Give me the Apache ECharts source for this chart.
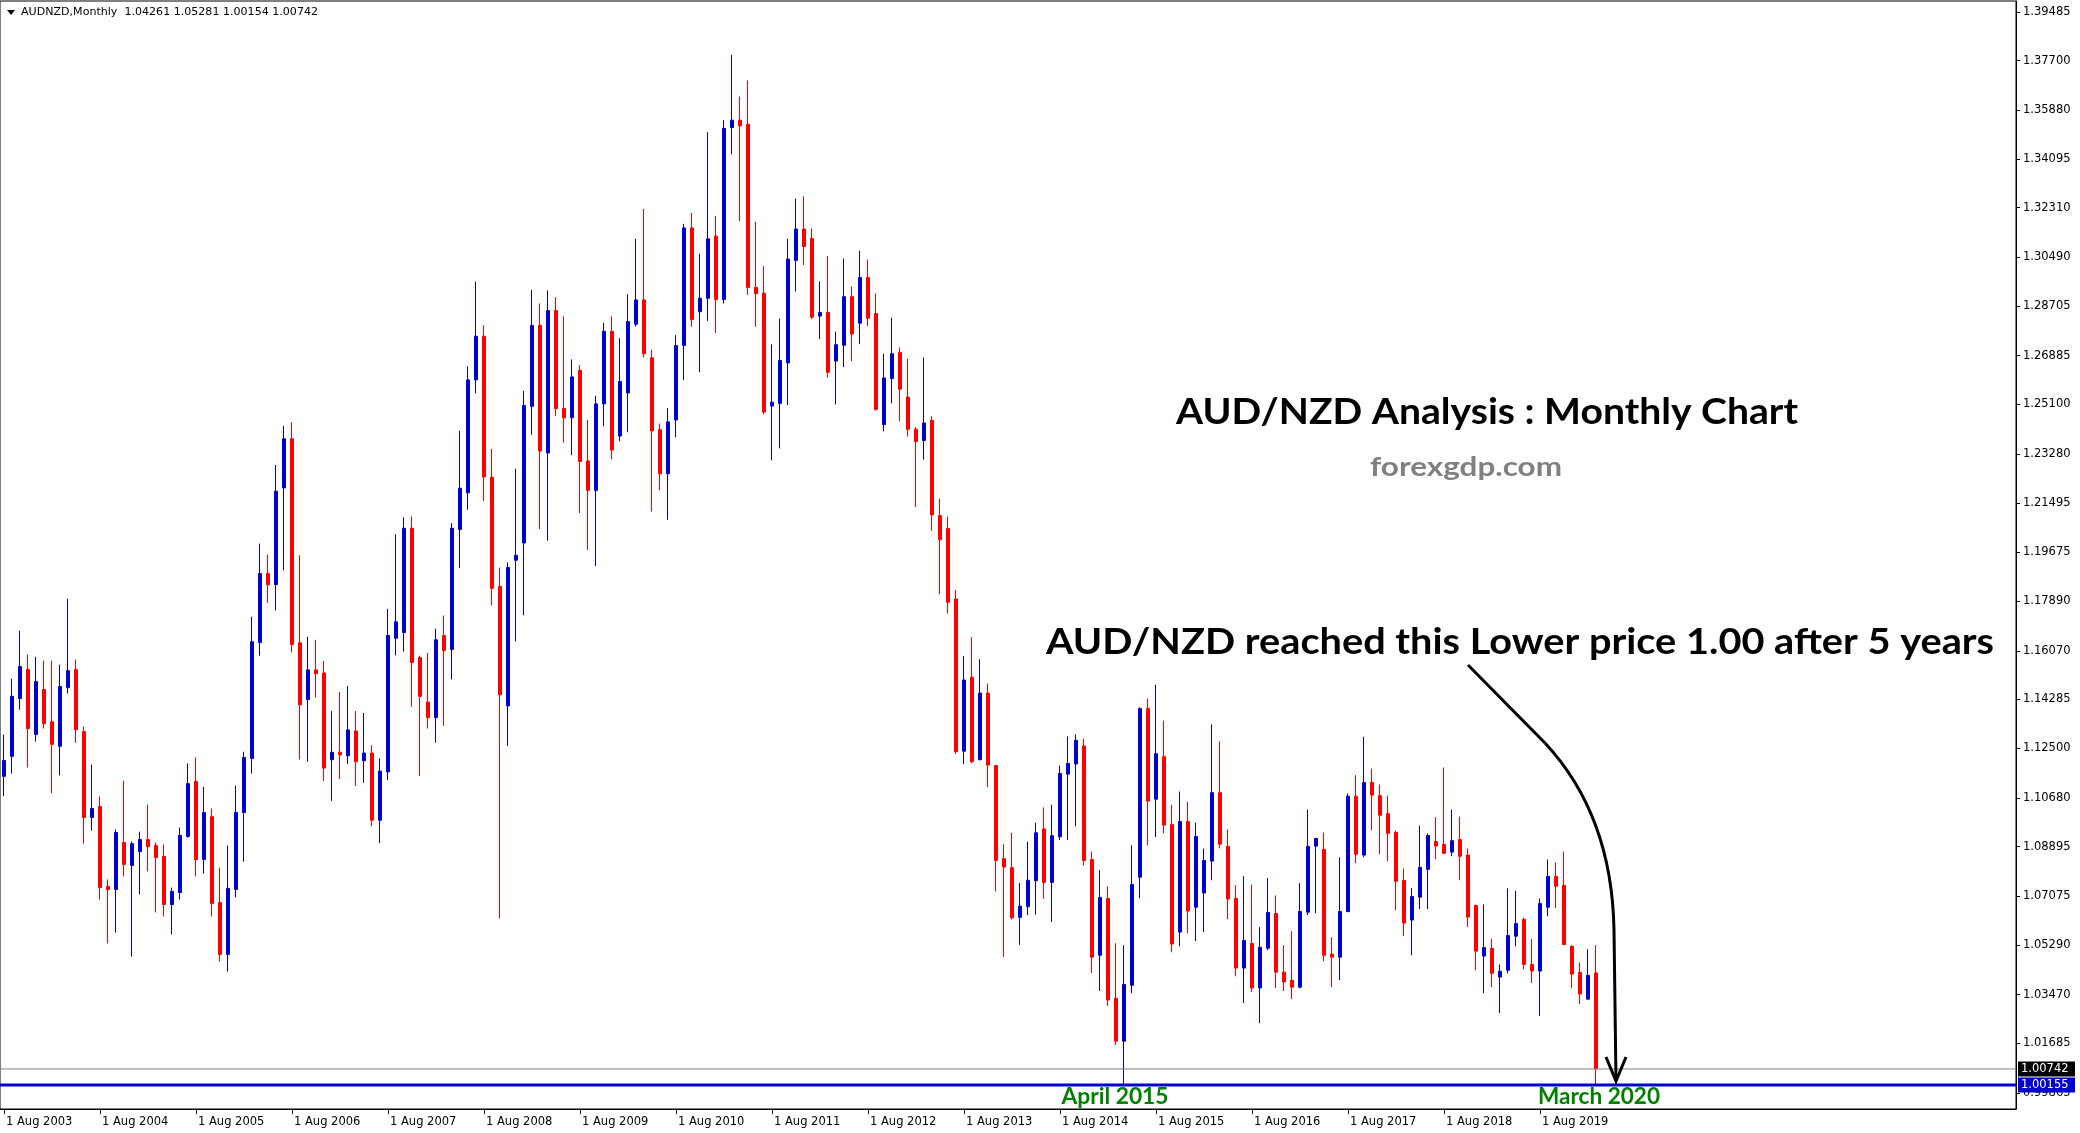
<!DOCTYPE html>
<html><head><meta charset="utf-8">
<script src="https://cdn.jsdelivr.net/npm/echarts/dist/echarts.min.js"></script>
<style>html,body{margin:0;padding:0;background:#fff}#c{width:2080px;height:1133px}</style>
</head><body><div id="c"></div>
<script>
// ---------------- data ----------------
const symbolName = 'AUDNZD,Monthly';
const startYear = 2003;
const startMonthIndex = 7; // August
const slotCount = 252;     // monthly slots shown on the x axis (bars + empty space on the right)
const monthNames = ['Jan','Feb','Mar','Apr','May','Jun','Jul','Aug','Sep','Oct','Nov','Dec'];

// monthly candles [open, high, low, close], Aug 2003 .. Mar 2020
const ohlc = [
[1.1147,1.1300,1.1074,1.1205],[1.1220,1.1505,1.1157,1.1440],[1.1432,1.1681,1.1391,1.1549],[1.1538,1.1593,1.1179,1.1322],
[1.1300,1.1585,1.1274,1.1494],[1.1465,1.1571,1.1322,1.1340],[1.1347,1.1571,1.1085,1.1264],[1.1257,1.1556,1.1150,1.1476],
[1.1472,1.1798,1.1450,1.1534],[1.1538,1.1575,1.1270,1.1318],[1.1311,1.1329,1.0900,1.0996],[1.0996,1.1190,1.0948,1.1029],
[1.1036,1.1073,1.0695,1.0739],[1.0743,1.0769,1.0534,1.0732],[1.0732,1.0952,1.0574,1.0941],[1.0904,1.1131,1.0780,1.0824],
[1.0820,1.0908,1.0486,1.0900],[1.0871,1.0944,1.0714,1.0915],[1.0915,1.1043,1.0798,1.0889],[1.0893,1.0904,1.0648,1.0849],
[1.0853,1.0897,1.0633,1.0677],[1.0677,1.0739,1.0567,1.0725],[1.0721,1.0959,1.0695,1.0930],[1.0926,1.1194,1.0922,1.1120],
[1.1128,1.1216,1.0780,1.0842],[1.0842,1.1109,1.0790,1.1014],[1.0999,1.1029,1.0633,1.0681],[1.0684,1.0812,1.0468,1.0494],
[1.0494,1.0893,1.0431,1.0736],[1.0732,1.1113,1.0703,1.1014],[1.1014,1.1237,1.0834,1.1216],[1.1212,1.1732,1.1157,1.1640],
[1.1637,1.2000,1.1589,1.1890],[1.1890,1.1960,1.1783,1.1849],[1.1850,1.2288,1.1755,1.2192],[1.2204,1.2432,1.1902,1.2384],
[1.2384,1.2445,1.1601,1.1630],[1.1636,1.1957,1.1208,1.1409],[1.1428,1.1659,1.1200,1.1537],[1.1537,1.1647,1.1436,1.1523],
[1.1526,1.1570,1.1130,1.1177],[1.1208,1.1386,1.1057,1.1235],[1.1235,1.1456,1.1137,1.1225],[1.1222,1.1478,1.1192,1.1317],
[1.1313,1.1386,1.1111,1.1200],[1.1204,1.1379,1.1123,1.1232],[1.1232,1.1261,1.0964,1.0986],[1.0986,1.1213,1.0902,1.1166],
[1.1163,1.1761,1.1133,1.1663],[1.1653,1.2034,1.1590,1.1713],[1.1674,1.2096,1.1604,1.2056],[1.2056,1.2100,1.1402,1.1564],
[1.1582,1.1589,1.1148,1.1440],[1.1419,1.1599,1.1322,1.1362],[1.1362,1.1688,1.1270,1.1647],[1.1663,1.1736,1.1332,1.1608],
[1.1612,1.2075,1.1502,1.2056],[1.2052,1.2413,1.1910,1.2203],[1.2186,1.2650,1.2124,1.2600],[1.2600,1.2960,1.2550,1.2760],
[1.2760,1.2800,1.2156,1.2244],[1.2243,1.2347,1.1773,1.1836],[1.1843,1.1912,1.0626,1.1446],[1.1405,1.1931,1.1258,1.1912],
[1.1939,1.2274,1.1641,1.1957],[1.2002,1.2560,1.1737,1.2506],[1.2503,1.2930,1.2399,1.2800],[1.2800,1.2880,1.2053,1.2339],
[1.2332,1.2928,1.2011,1.2854],[1.2854,1.2903,1.2468,1.2495],[1.2495,1.2833,1.2370,1.2461],[1.2461,1.2675,1.2324,1.2611],
[1.2635,1.2654,1.2112,1.2301],[1.2303,1.2453,1.1977,1.2195],[1.2195,1.2542,1.1918,1.2512],[1.2512,1.2810,1.2430,1.2778],
[1.2778,1.2833,1.2309,1.2343],[1.2394,1.2753,1.2375,1.2594],[1.2552,1.2914,1.2408,1.2814],[1.2804,1.3117,1.2795,1.2893],
[1.2893,1.3227,1.2683,1.2696],[1.2681,1.2711,1.2117,1.2413],[1.2417,1.2440,1.2195,1.2256],[1.2256,1.2497,1.2087,1.2446],
[1.2453,1.2764,1.2389,1.2726],[1.2726,1.3172,1.2599,1.3157],[1.3157,1.3212,1.2795,1.2821],[1.2850,1.3062,1.2628,1.2899],
[1.2899,1.3508,1.2816,1.3117],[1.3127,1.3201,1.2772,1.2895],[1.2895,1.3552,1.2880,1.3522],[1.3525,1.3791,1.3427,1.3552],
[1.3552,1.3639,1.3182,1.3531],[1.3537,1.3698,1.2912,1.2939],[1.2939,1.3180,1.2795,1.2916],[1.2918,1.3017,1.2474,1.2482],
[1.2504,1.2730,1.2305,1.2518],[1.2514,1.2825,1.2349,1.2671],[1.2662,1.3117,1.2508,1.3043],[1.3038,1.3265,1.2924,1.3153],
[1.3153,1.3273,1.3021,1.3089],[1.3118,1.3155,1.2823,1.2830],[1.2834,1.2961,1.2750,1.2847],[1.2847,1.3054,1.2609,1.2628],
[1.2669,1.2777,1.2510,1.2729],[1.2727,1.3045,1.2647,1.2905],[1.2905,1.2942,1.2669,1.2768],[1.2808,1.3074,1.2731,1.2975],
[1.2975,1.3041,1.2797,1.2826],[1.2843,1.2917,1.2487,1.2492],[1.2436,1.2696,1.2411,1.2607],[1.2605,1.2828,1.2514,1.2696],
[1.2700,1.2719,1.2448,1.2566],[1.2537,1.2677,1.2392,1.2419],[1.2419,1.2427,1.2134,1.2374],[1.2378,1.2682,1.2308,1.2442],
[1.2452,1.2467,1.2047,1.2105],[1.2103,1.2165,1.1814,1.2014],[1.2055,1.2099,1.1743,1.1785],[1.1797,1.1830,1.1229,1.1237],
[1.1239,1.1588,1.1192,1.1500],[1.1510,1.1657,1.1195,1.1200],[1.1208,1.1576,1.1205,1.1452],[1.1452,1.1487,1.1107,1.1188],
[1.1186,1.1188,1.0725,1.0838],[1.0845,1.0898,1.0485,1.0814],[1.0812,1.0940,1.0622,1.0628],[1.0630,1.0756,1.0529,1.0671],
[1.0669,1.0907,1.0638,1.0766],[1.0764,1.0977,1.0640,1.0940],[1.0954,1.1033,1.0698,1.0758],[1.0758,1.1043,1.0613,1.0929],
[1.0925,1.1186,1.0913,1.1157],[1.1155,1.1293,1.0913,1.1194],[1.1192,1.1301,1.0964,1.1279],[1.1258,1.1285,1.0820,1.0838],
[1.0842,1.0871,1.0426,1.0484],[1.0491,1.0803,1.0360,1.0703],[1.0699,1.0743,1.0305,1.0327],[1.0333,1.0535,1.0162,1.0176],
[1.0176,1.0528,1.00155,1.0384],[1.0381,1.0894,1.0352,1.0750],[1.0777,1.1400,1.0700,1.1395],[1.1395,1.1432,1.0894,1.1056],
[1.1063,1.1483,1.0924,1.1230],[1.1219,1.1351,1.0938,1.0968],[1.0970,1.1043,1.0502,1.0532],[1.0576,1.1091,1.0524,1.0981],
[1.0981,1.1054,1.0572,1.0653],[1.0667,1.0977,1.0543,1.0926],[1.0719,1.0882,1.0576,1.0838],[1.0836,1.1337,1.0766,1.1087],
[1.1087,1.1275,1.0883,1.0898],[1.0890,1.0952,1.0623,1.0697],[1.0699,1.0748,1.0414,1.0444],[1.0444,1.0781,1.0316,1.0545],
[1.0534,1.0750,1.0356,1.0371],[1.0371,1.0594,1.0242,1.0520],[1.0517,1.0774,1.0510,1.0648],[1.0644,1.0710,1.0371,1.0429],
[1.0429,1.0528,1.0360,1.0393],[1.0399,1.0579,1.0330,1.0374],[1.0374,1.0755,1.0370,1.0651],[1.0649,1.1025,1.0638,1.0890],
[1.0891,1.0921,1.0645,1.0919],[1.0879,1.0941,1.0469,1.0491],[1.0495,1.0557,1.0374,1.0484],[1.0484,1.0850,1.0400,1.0651],
[1.0651,1.1084,1.0649,1.1074],[1.1074,1.1151,1.0828,1.0861],[1.0858,1.1292,1.0850,1.1124],[1.1124,1.1175,1.0949,1.1078],
[1.1076,1.1117,1.0861,1.1004],[1.1010,1.1076,1.0836,1.0938],[1.0941,1.0948,1.0656,1.0762],[1.0765,1.0809,1.0561,1.0609],
[1.0620,1.0737,1.0491,1.0706],[1.0704,1.0966,1.0660,1.0813],[1.0806,1.0937,1.0660,1.0930],[1.0908,1.0997,1.0843,1.0891],
[1.0897,1.1179,1.0861,1.0865],[1.0869,1.1025,1.0854,1.0911],[1.0915,1.0999,1.0766,1.0854],[1.0858,1.0882,1.0594,1.0631],
[1.0673,1.0677,1.0436,1.0506],[1.0488,1.0677,1.0352,1.0519],[1.0516,1.0552,1.0374,1.0425],[1.0411,1.0457,1.0279,1.0432],
[1.0436,1.0736,1.0425,1.0563],[1.0561,1.0728,1.0524,1.0607],[1.0622,1.0629,1.0440,1.0457],[1.0457,1.0550,1.0389,1.0433],
[1.0433,1.0699,1.0268,1.0681],[1.0667,1.0842,1.0634,1.0780],[1.0780,1.0831,1.0664,1.0744],[1.0747,1.0871,1.0528,1.0530],
[1.0523,1.0528,1.0370,1.0422],[1.0428,1.0465,1.0312,1.0349],[1.0330,1.0513,1.0330,1.0417],[1.04261,1.05281,1.00154,1.00742]
];

// price axis tick labels (as printed on the right scale)
const yTickValues = [1.39485,1.37700,1.35880,1.34095,1.32310,1.30490,1.28705,1.26885,1.25100,1.23280,1.21495,1.19675,
  1.17890,1.16070,1.14285,1.12500,1.10680,1.08895,1.07075,1.05290,1.03470,1.01685,0.99865];
const yMin = 0.99274, yMax = 1.39888;

// horizontal levels
const supportLevel = 1.00155;   // blue line
const lastPrice = 1.00742;      // grey bid line

// texts
const headerText = symbolName + '  1.04261 1.05281 1.00154 1.00742';
const titleText = 'AUD/NZD Analysis : Monthly Chart';
const siteText = 'forexgdp.com';
const noteText = 'AUD/NZD reached this Lower price 1.00 after 5 years';
const aprilText = 'April 2015';
const marchText = 'March 2020';

// ---------------- build ----------------
const categories = [];
for (let i = 0; i < slotCount; i++) {
  const m = (startMonthIndex + i) % 12;
  const y = startYear + Math.floor((startMonthIndex + i) / 12);
  categories.push('1 ' + monthNames[m] + ' ' + y);
}
const candleData = ohlc.map(r => [r[0], r[3], r[2], r[1]]);
const isYearTick = (i) => i % 12 === 0 && i < ohlc.length;

const measureCtx = document.createElement('canvas').getContext('2d');
function fitText(text, family, size, weight, cx, cy, targetWidth, fill, align) {
  measureCtx.font = weight + ' ' + size + 'px "' + family + '"';
  const w = measureCtx.measureText(text).width;
  return {
    type: 'text', x: cx, y: cy, scaleX: targetWidth / w, silent: true, z: 100,
    style: { text: text, fontFamily: family, fontSize: size, fontWeight: weight, fill: fill,
             align: align || 'center', verticalAlign: 'middle' }
  };
}

const gridLeft = 0, gridRight = 64, gridTop = 1, gridBottom = 24;
const plotRight = 2080 - gridRight;
const chart = echarts.init(document.getElementById('c'));
const axisFont = 'DejaVu Sans';

chart.setOption({
  animation: false,
  backgroundColor: '#ffffff',
  grid: { left: gridLeft, right: gridRight, top: gridTop, bottom: gridBottom, show: true, borderColor: '#000', borderWidth: 1 },
  xAxis: {
    type: 'category', data: categories, boundaryGap: true,
    axisLine: { show: true, lineStyle: { color: '#000', width: 1 } },
    axisTick: { show: true, alignWithLabel: true, interval: isYearTick, length: 5, lineStyle: { color: '#000' } },
    axisLabel: { show: true, interval: isYearTick, align: 'left', margin: 7, padding: [0, 0, 0, 2],
                 color: '#000', fontFamily: axisFont, fontSize: 11.5 },
    splitLine: { show: false }
  },
  yAxis: {
    type: 'value', position: 'right', min: yMin, max: yMax, scale: true,
    axisLine: { show: true, lineStyle: { color: '#000', width: 1 } },
    axisTick: { show: true, customValues: yTickValues, length: 4, lineStyle: { color: '#000' } },
    axisLabel: { show: true, customValues: yTickValues, margin: 7, color: '#000', fontFamily: axisFont, fontSize: 11.5,
                 formatter: v => v.toFixed(5) },
    splitLine: { show: false }
  },
  series: [{
    type: 'candlestick',
    data: candleData,
    barWidth: 4,
    itemStyle: { color: '#0000CD', color0: '#FF0000', borderColor: '#0000CD', borderColor0: '#FF0000', borderWidth: 1 }
  }]
});

// horizontal price levels placed through the y axis scale
function levelGraphics(value, lineColor, lineWidth, boxColor) {
  const y = chart.convertToPixel({ yAxisIndex: 0 }, value);
  return [
    { type: 'line', silent: true, z: 50, shape: { x1: gridLeft, y1: y, x2: plotRight, y2: y },
      style: { stroke: lineColor, lineWidth: lineWidth } },
    { type: 'rect', silent: true, z: 60, shape: { x: plotRight + 2, y: y - 7.5, width: 57, height: 15 },
      style: { fill: boxColor } },
    { type: 'text', silent: true, z: 61, x: plotRight + 5, y: y,
      style: { text: value.toFixed(5), fill: '#fff', fontFamily: axisFont, fontSize: 11.5, align: 'left', verticalAlign: 'middle' } }
  ];
}

const graphics = [].concat(
  levelGraphics(lastPrice, '#808080', 1, '#000000'),
  levelGraphics(supportLevel, '#0000CD', 3, '#0000CD'),
  [
    { type: 'polygon', silent: true, z: 100, shape: { points: [[7, 10], [15, 10], [11, 15]] }, style: { fill: '#000' } },
    fitText(headerText, 'DejaVu Sans', 10.5, 'normal', 21, 12.5, 297, '#000', 'left'),
    fitText(titleText, 'Lato', 36, 'bold', 1487, 412, 622, '#000'),
    fitText(siteText, 'Lato', 26, 'bold', 1466, 468, 192, '#808080'),
    fitText(noteText, 'Lato', 36, 'bold', 1520, 642, 948, '#000'),
    fitText(aprilText, 'Lato', 23, 'bold', 1115, 1097, 107, '#008000'),
    fitText(marchText, 'Lato', 23, 'bold', 1599, 1097, 122, '#008000'),
    { type: 'line', silent: true, z: 100, shape: { x1: 1468, y1: 665, x2: 1545, y2: 743 }, style: { stroke: '#000', lineWidth: 3 } },
    { type: 'bezierCurve', silent: true, z: 100, shape: { x1: 1545, y1: 743, x2: 1614, y2: 930, cpx1: 1612, cpy1: 815 },
      style: { stroke: '#000', lineWidth: 3, fill: null } },
    { type: 'line', silent: true, z: 100, shape: { x1: 1614, y1: 930, x2: 1616, y2: 1080 }, style: { stroke: '#000', lineWidth: 3 } },
    { type: 'polyline', silent: true, z: 100, shape: { points: [[1606, 1057], [1616, 1081], [1626, 1057]] },
      style: { stroke: '#000', lineWidth: 3, fill: null } }
  ]
);
chart.setOption({ graphic: graphics });
</script>
</body></html>
